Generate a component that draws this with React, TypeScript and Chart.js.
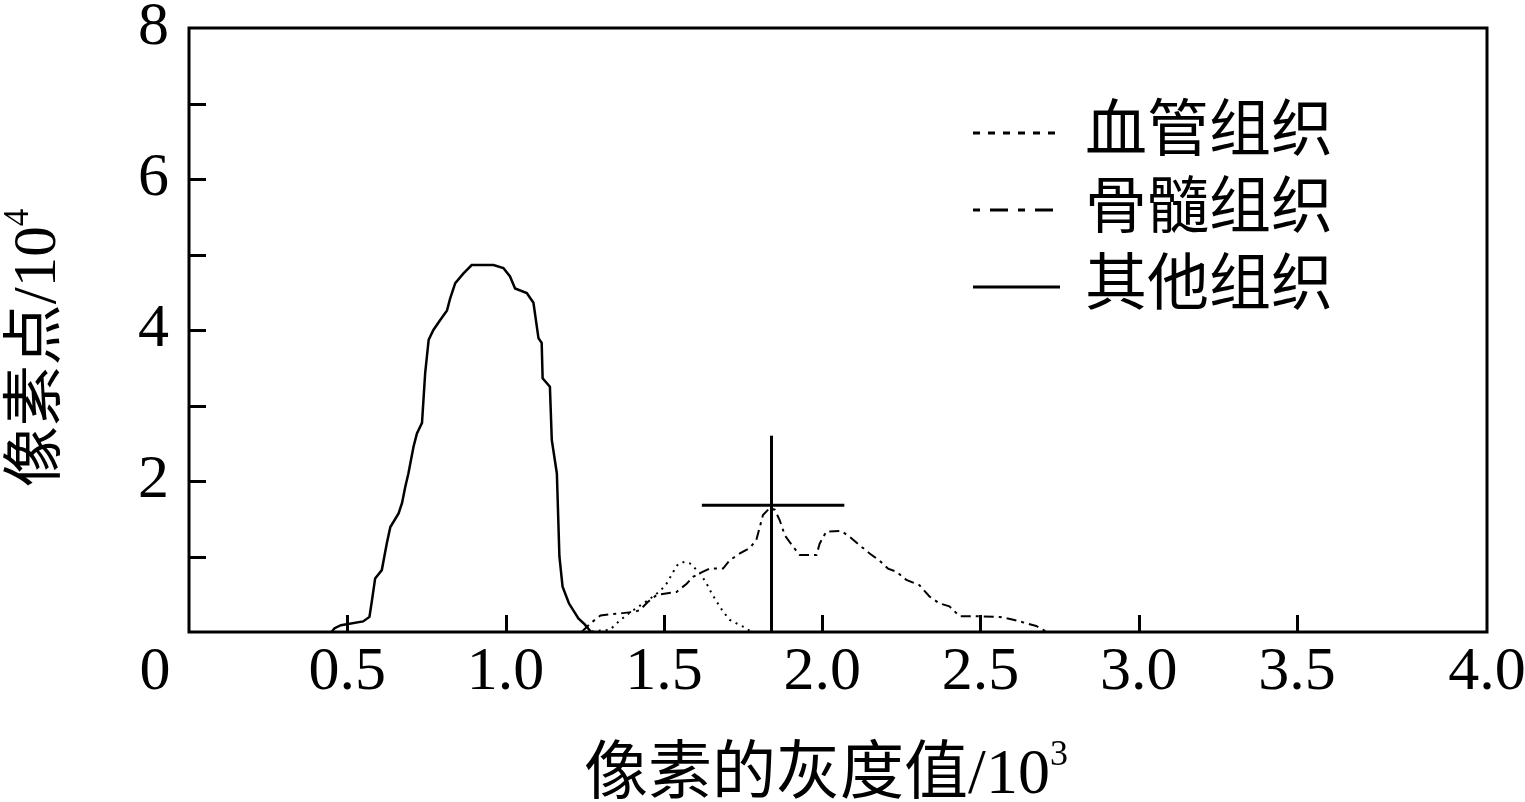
import React, { useEffect, useRef } from "react";
import { Chart, registerables } from "chart.js";
Chart.register(...registerables);

// ---- axis definitions ----
const X_MIN = 0;
const X_MAX = 4.1;
const Y_MIN = 0;
const Y_MAX = 8;
const xTickValues = [0.5, 1.0, 1.5, 2.0, 2.5, 3.0, 3.5];
const xEndLabel = "4.0";
const yTickValues = [1, 2, 3, 4, 5, 6, 7];
const yLabelValues = [2, 4, 6, 8];
const originLabel = "0";
const xTitleMain = "像素的灰度值/10";
const xTitleSup = "3";
const yTitleMain = "像素点/10";
const yTitleSup = "4";

// ---- series ----
const seriesNames = ["血管组织", "骨髓组织", "其他组织"];

const vesselX = [1.25, 1.33, 1.36, 1.4, 1.45, 1.49, 1.51, 1.53, 1.545, 1.565, 1.582, 1.614, 1.635, 1.651, 1.667, 1.687, 1.708, 1.74, 1.761, 1.775];
const vesselY = [0, 0.03, 0.15, 0.28, 0.42, 0.55, 0.65, 0.8, 0.9, 0.93, 0.91, 0.78, 0.64, 0.51, 0.4, 0.27, 0.16, 0.09, 0.05, 0];

const marrowX = [1.24, 1.27, 1.3, 1.37, 1.41, 1.424, 1.45, 1.477, 1.54, 1.572, 1.592, 1.614, 1.645, 1.687, 1.708, 1.74, 1.771, 1.792, 1.803, 1.813, 1.834, 1.85, 1.866, 1.882, 1.908, 1.929, 1.982, 1.992, 2.013, 2.06, 2.087, 2.118, 2.15, 2.18, 2.208, 2.234, 2.266, 2.307, 2.339, 2.37, 2.402, 2.434, 2.486, 2.56, 2.597, 2.633, 2.676, 2.697, 2.71];
const marrowY = [0, 0.12, 0.22, 0.25, 0.27, 0.29, 0.4, 0.49, 0.53, 0.64, 0.73, 0.78, 0.84, 0.84, 0.95, 1.04, 1.11, 1.22, 1.39, 1.55, 1.64, 1.62, 1.48, 1.28, 1.13, 1.02, 1.02, 1.17, 1.33, 1.34, 1.26, 1.15, 1.04, 0.95, 0.84, 0.8, 0.69, 0.62, 0.47, 0.38, 0.34, 0.21, 0.21, 0.2, 0.17, 0.13, 0.08, 0.03, 0];

const otherX = [0.45, 0.46, 0.48, 0.55, 0.57, 0.578, 0.588, 0.609, 0.625, 0.636, 0.662, 0.673, 0.683, 0.693, 0.709, 0.72, 0.736, 0.746, 0.757, 0.772, 0.793, 0.815, 0.825, 0.841, 0.867, 0.893, 0.962, 0.993, 1.014, 1.03, 1.067, 1.088, 1.104, 1.114, 1.117, 1.14, 1.146, 1.162, 1.17, 1.18, 1.2, 1.23, 1.25, 1.27];
const otherY = [0, 0.05, 0.09, 0.14, 0.2, 0.42, 0.71, 0.82, 1.18, 1.39, 1.57, 1.71, 1.92, 2.1, 2.45, 2.63, 2.77, 3.43, 3.87, 4.0, 4.13, 4.26, 4.42, 4.62, 4.75, 4.86, 4.86, 4.82, 4.71, 4.55, 4.49, 4.36, 3.89, 3.83, 3.36, 3.25, 2.54, 2.1, 1.0, 0.6, 0.38, 0.18, 0.1, 0];

// crosshair marker at the marrow peak
const crossX = 1.84;
const crossTopY = 2.6;
const crossY = 1.68;
const crossSpan = [1.62, 2.07];

const NUM_FONT = "'Liberation Serif', 'Times New Roman', serif";
const CJK_FONT = "'Liberation Serif', 'Noto Sans CJK SC', serif";

const toPoints = (xs: number[], ys: number[]) => xs.map((x, i) => ({ x, y: ys[i] }));

function drawSup(ctx: CanvasRenderingContext2D, main: string, sup: string, size: number, supSize: number, raise: number) {
  ctx.font = `${size}px ${CJK_FONT}`;
  const w1 = ctx.measureText(main).width;
  ctx.font = `${supSize}px ${NUM_FONT}`;
  const w2 = ctx.measureText(sup).width;
  const start = -(w1 + w2) / 2;
  ctx.textAlign = "left";
  ctx.textBaseline = "alphabetic";
  ctx.font = `${size}px ${CJK_FONT}`;
  ctx.fillText(main, start, 0);
  ctx.font = `${supSize}px ${NUM_FONT}`;
  ctx.fillText(sup, start + w1, -raise);
}

const decorPlugin = {
  id: "decor",
  afterDraw(chart: any) {
    const ctx: CanvasRenderingContext2D = chart.ctx;
    const { left, right, top, bottom } = chart.chartArea;
    const xs = chart.scales.x;
    const ys = chart.scales.y;
    ctx.save();
    ctx.strokeStyle = "#000";
    ctx.fillStyle = "#000";
    ctx.setLineDash([]);
    // frame
    ctx.lineWidth = 3;
    ctx.strokeRect(left, top, right - left, bottom - top);
    // inward ticks
    const tl = 17;
    ctx.beginPath();
    xTickValues.forEach((v) => {
      const px = Math.round(xs.getPixelForValue(v)) + 0.5;
      ctx.moveTo(px, bottom);
      ctx.lineTo(px, bottom - tl);
    });
    yTickValues.forEach((v) => {
      const py = Math.round(ys.getPixelForValue(v)) + 0.5;
      ctx.moveTo(left, py);
      ctx.lineTo(left + tl, py);
    });
    ctx.stroke();
    // origin label
    ctx.font = `62px ${NUM_FONT}`;
    ctx.textAlign = "center";
    ctx.textBaseline = "middle";
    ctx.fillText(originLabel, left - 34, bottom + 41);
    // x title
    ctx.save();
    ctx.translate((left + right) / 2 - 12, 793);
    drawSup(ctx, xTitleMain, xTitleSup, 64, 36, 28);
    ctx.restore();
    // y title
    ctx.save();
    ctx.translate(55, (top + bottom) / 2 + 18);
    ctx.rotate(-Math.PI / 2);
    drawSup(ctx, yTitleMain, yTitleSup, 61, 35, 27);
    ctx.restore();
    // legend
    const rows = [133, 210, 287];
    chart.data.datasets.slice(0, 3).forEach((ds: any, i: number) => {
      const y = rows[i];
      ctx.beginPath();
      ctx.lineWidth = 3;
      ctx.setLineDash(ds.legendDash || []);
      ctx.moveTo(973, y);
      ctx.lineTo(1060, y);
      ctx.stroke();
      ctx.setLineDash([]);
      ctx.font = `62px ${CJK_FONT}`;
      ctx.textAlign = "left";
      ctx.textBaseline = "middle";
      ctx.fillText(ds.label, 1085, y + 2);
    });
    ctx.restore();
  },
};

export default function App() {
  const ref = useRef<HTMLCanvasElement>(null);
  useEffect(() => {
    const chart = new Chart(ref.current as HTMLCanvasElement, {
      type: "line",
      data: {
        datasets: [
          {
            label: seriesNames[0],
            data: toPoints(vesselX, vesselY),
            borderColor: "#000",
            borderWidth: 2,
            borderDash: [2, 5],
            legendDash: [7, 8],
          } as any,
          {
            label: seriesNames[1],
            data: toPoints(marrowX, marrowY),
            borderColor: "#000",
            borderWidth: 2,
            borderDash: [10, 5, 3, 5],
            legendDash: [7, 10, 18, 10],
          } as any,
          {
            label: seriesNames[2],
            data: toPoints(otherX, otherY),
            borderColor: "#000",
            borderWidth: 2.5,
            legendDash: [],
          } as any,
          {
            label: "",
            data: [{ x: crossX, y: 0 }, { x: crossX, y: crossTopY }],
            borderColor: "#000",
            borderWidth: 3,
          },
          {
            label: "",
            data: [{ x: crossSpan[0], y: crossY }, { x: crossSpan[1], y: crossY }],
            borderColor: "#000",
            borderWidth: 3,
          },
        ],
      },
      options: {
        animation: false,
        responsive: true,
        maintainAspectRatio: false,
        layout: { padding: { left: 0, top: 28, right: 38, bottom: 0 } },
        elements: { point: { radius: 0 }, line: { tension: 0, fill: false } },
        plugins: { legend: { display: false }, tooltip: { enabled: false } },
        scales: {
          x: {
            type: "linear",
            min: X_MIN,
            max: X_MAX,
            grid: { display: false, drawTicks: false },
            border: { display: false },
            afterBuildTicks: (scale: any) => {
              scale.ticks = [...xTickValues, X_MAX].map((v) => ({ value: v }));
            },
            afterFit: (scale: any) => {
              scale.height = 170;
              scale.paddingLeft = 0;
              scale.paddingRight = 0;
            },
            ticks: {
              autoSkip: false,
              maxRotation: 0,
              padding: 4,
              color: "#000",
              font: { family: NUM_FONT, size: 62 },
              callback: (v: any) => (v === X_MAX ? xEndLabel : Number(v).toFixed(1)),
            },
          },
          y: {
            type: "linear",
            min: Y_MIN,
            max: Y_MAX,
            grid: { display: false, drawTicks: false },
            border: { display: false },
            afterFit: (scale: any) => {
              scale.width = 189;
              scale.paddingTop = 0;
              scale.paddingBottom = 0;
            },
            ticks: {
              stepSize: 1,
              padding: 20,
              color: "#000",
              font: { family: NUM_FONT, size: 62 },
              callback: (v: any) => (yLabelValues.includes(Number(v)) ? String(v) : ""),
            },
          },
        },
      } as any,
      plugins: [decorPlugin],
    });
    return () => chart.destroy();
  }, []);
  return (
    <div style={{ position: "fixed", left: 0, top: 0, width: 1525, height: 802, background: "#fff" }}>
      <canvas ref={ref} />
    </div>
  );
}
